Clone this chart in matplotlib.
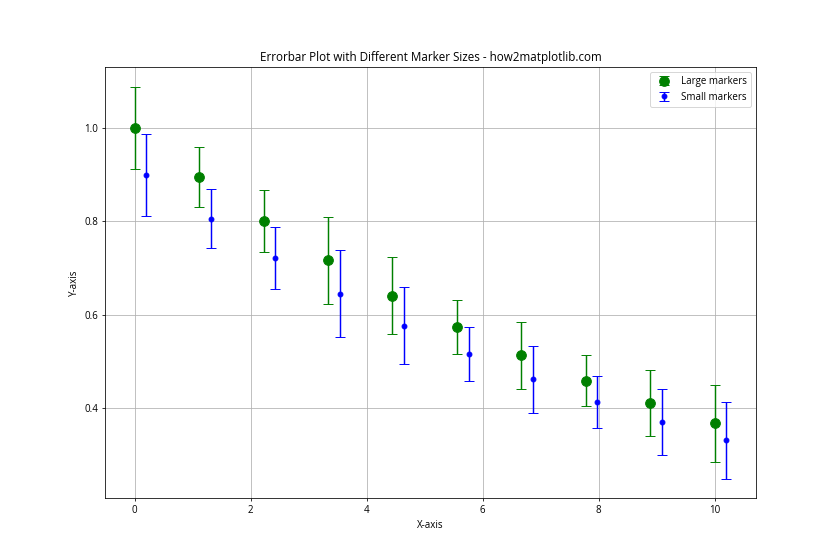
import matplotlib.pyplot as plt

# Datos
x_large = [0.0, 1.111, 2.222, 3.333, 4.444, 5.556, 6.667, 7.778, 8.889, 10.0]
y_large = [1.000, 0.895, 0.801, 0.717, 0.641, 0.574, 0.513, 0.459, 0.411, 0.368]
x_small = [0.2, 1.311, 2.422, 3.533, 4.644, 5.756, 6.867, 7.978, 9.089, 10.2]
y_small = [0.900, 0.806, 0.721, 0.645, 0.577, 0.516, 0.462, 0.413, 0.370, 0.331]
errors = [0.088, 0.064, 0.066, 0.093, 0.082, 0.058, 0.072, 0.055, 0.071, 0.082]

plt.rcParams['font.family'] = ['Open Sans', 'DejaVu Sans']
plt.rcParams['font.size'] = 10

fig = plt.figure(figsize=(12, 8), dpi=70)
plt.errorbar(x_large, y_large, yerr=errors, fmt='o', color='green',
             markersize=10, capsize=5, label='Large markers')
plt.errorbar(x_small, y_small, yerr=errors, fmt='o', color='blue',
             markersize=5, capsize=5, label='Small markers')
plt.title('Errorbar Plot with Different Marker Sizes - how2matplotlib.com')
plt.xlabel('X-axis')
plt.ylabel('Y-axis')
plt.legend()
plt.grid(True)
plt.savefig('out.png', dpi=70)
